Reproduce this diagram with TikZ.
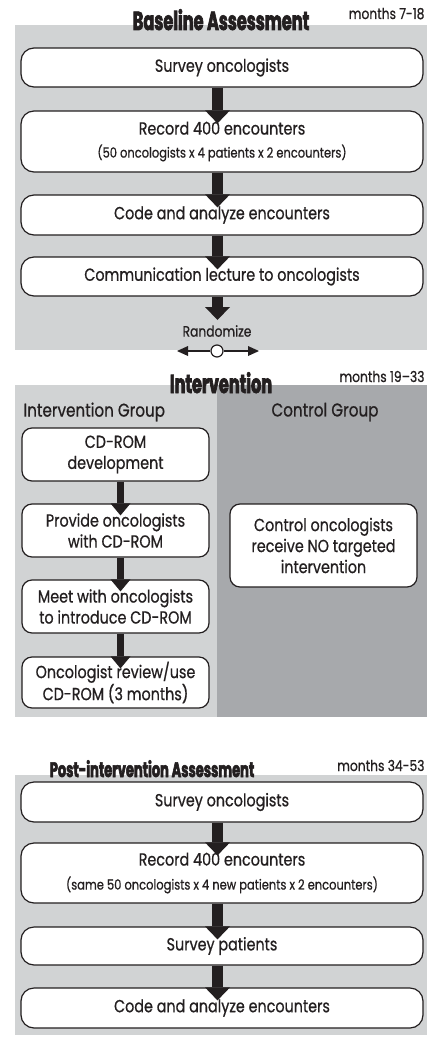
\documentclass[tikz,border=0pt]{standalone}
\usepackage{fontspec}
\setmainfont[FakeStretch=0.82,FakeBold=0.7]{Poppins}
\newfontfamily\headfont[FakeStretch=0.62,BoldFeatures={FakeBold=2.6}]{Poppins}
\usetikzlibrary{arrows.meta}
\definecolor{panel}{RGB}{209,211,212}
\definecolor{panelDark}{RGB}{167,169,172}
\definecolor{ink}{RGB}{35,31,32}
\newcommand{\subtext}[1]{{\fontsize{14}{20}\selectfont #1}}
\begin{document}
\begin{tikzpicture}[x=1pt,y=-1pt,
  every node/.style={text=ink},
  stage/.style={draw=ink, line width=1.2pt, fill=white, rounded corners=13pt,
    minimum width=402pt, inner sep=0pt, align=center,
    font=\fontsize{17.5}{21}\selectfont},
  ibox/.style={draw=ink, line width=1.2pt, fill=white, rounded corners=10pt,
    minimum width=187pt, inner sep=0pt, align=center,
    font=\fontsize{17.5}{21}\selectfont},
  heading/.style={anchor=base, font=\headfont\bfseries\fontsize{26}{26}\selectfont},
  months/.style={anchor=base east, font=\fontsize{15}{15}\selectfont},
  group/.style={font=\fontsize{18.5}{19}\selectfont},
  bigarrow/.style={draw=ink, line width=11pt,
    -{Triangle[width=25pt,length=13pt,line width=0pt]}, shorten >=-13pt},
  midarrow/.style={draw=ink, line width=7.5pt,
    -{Triangle[width=20pt,length=12pt,line width=0pt]}, shorten >=-12pt},
  thinarrow/.style={draw=ink, line width=2pt,
    -{Triangle[width=10pt,length=11pt,line width=0pt]}}
]
\useasboundingbox (0,0) rectangle (438,1038);
\fill[white] (0,0) rectangle (438,1038);

% ---------- panels ----------
\fill[panel] (15,25) rectangle (427,350);
\fill[panel] (15,385) rectangle (217,717);
\fill[panelDark] (217,385) rectangle (427,717);
\fill[panel] (15,775) rectangle (427,1035);

% ---------- baseline assessment ----------
\node[heading] (t1) at (221,30) {Baseline Assessment};
\node[months] (m1) at (428,19) {months 7-18};

\node[stage, minimum height=39pt] (b1) at (222,67.5) {Survey oncologists};
\node[stage, minimum height=61pt] (b2) at (222,141.5)
  {Record 400 encounters\\[2pt]\subtext{(50 oncologists x 4 patients x 2 encounters)}};
\node[stage, minimum height=40pt] (b3) at (222,215) {Code and analyze encounters};
\node[stage, minimum height=39pt] (b4) at (222,276.5) {Communication lecture to oncologists};

\draw[bigarrow] ([xshift=-4.5pt]b1.south) -- ([xshift=-4.5pt]b2.north);
\draw[bigarrow] ([xshift=-4.5pt]b2.south) -- ([xshift=-4.5pt]b3.north);
\draw[bigarrow] ([xshift=-4.5pt]b3.south) -- ([xshift=-4.5pt]b4.north);

% ---------- randomization ----------
\coordinate (rtip) at (217.5,320);
\draw[bigarrow, shorten >=0pt] ([xshift=-4.5pt]b4.south) -- (rtip);
\node[font=\fontsize{15}{15}\selectfont] (rlabel) at (217,331) {Randomize};
\coordinate (rl) at (177,351);
\coordinate (rr) at (259,351);
\node[circle, draw=ink, line width=1.2pt, fill=white, minimum size=12pt, inner sep=0pt] (rnd) at (217,351) {};
\draw[thinarrow] (rnd) -- (rl);
\draw[thinarrow] (rnd) -- (rr);

% ---------- intervention ----------
\node[heading] (t2) at (221,393) {Intervention};
\node[months] (m2) at (428,382) {months 19--33};
\node[group, anchor=west] (g1) at (20,412) {Intervention Group};
\node[group] (g2) at (325,412) {Control Group};

\node[ibox, minimum height=53pt] (i1) at (115.5,454.5) {CD-ROM\\development};
\node[ibox, minimum height=53pt] (i2) at (115.5,530.5) {Provide oncologists\\with CD-ROM};
\node[ibox, minimum height=53pt] (i3) at (115.5,606.5) {Meet with oncologists\\to introduce CD-ROM};
\node[ibox, minimum height=51pt] (i4) at (115.5,682.5) {Oncologist review/use\\CD-ROM (3 months)};
\node[ibox, minimum height=83pt] (ctrl) at (323.5,545.5)
  {Control oncologists\\receive NO targeted\\intervention};

\draw[midarrow] ([xshift=5pt]i1.south) -- ([xshift=5pt]i2.north);
\draw[midarrow] ([xshift=5pt]i2.south) -- ([xshift=5pt]i3.north);
\draw[midarrow] ([xshift=5pt]i3.south) -- ([xshift=5pt]i4.north);

% ---------- post-intervention assessment ----------
\node[heading, font=\headfont\bfseries\fontsize{21}{21}\selectfont] (t3) at (152,777) {Post-intervention Assessment};
\node[months] (m3) at (428,771) {months 34-53};

\node[stage, minimum height=40pt] (p1) at (222,802) {Survey oncologists};
\node[stage, minimum height=60pt] (p2) at (222,873)
  {Record 400 encounters\\[3pt]\subtext{(same 50 oncologists x 4 new patients x 2 encounters)}};
\node[stage, minimum height=38pt] (p3) at (222,946) {Survey patients};
\node[stage, minimum height=40pt] (p4) at (222,1008) {Code and analyze encounters};

\draw[bigarrow] ([xshift=-4.5pt]p1.south) -- ([xshift=-4.5pt]p2.north);
\draw[bigarrow] ([xshift=-4.5pt]p2.south) -- ([xshift=-4.5pt]p3.north);
\draw[bigarrow] ([xshift=-4.5pt]p3.south) -- ([xshift=-4.5pt]p4.north);
\end{tikzpicture}
\end{document}
